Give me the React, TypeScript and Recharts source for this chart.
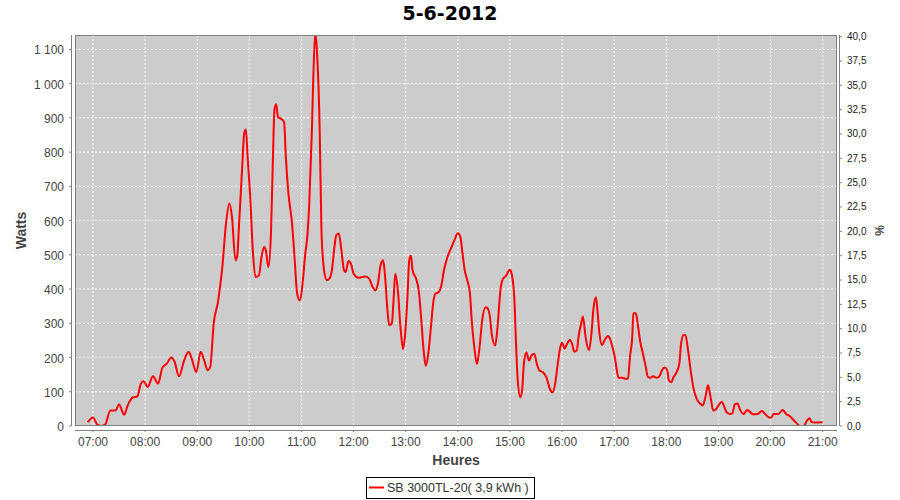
import { LineChart, Line, XAxis, YAxis, CartesianGrid } from 'recharts'

// readings of the inverter, time of day -> watts
const times = [
  '06:54', '07:00', '07:05', '07:10', '07:14', '07:20', '07:26', '07:30', '07:36', '07:40',
  '07:46', '07:51', '07:55', '07:58', '08:03', '08:09', '08:15', '08:20', '08:25', '08:30',
  '08:34', '08:39', '08:45', '08:50', '08:53', '08:59', '09:04', '09:08', '09:12', '09:15',
  '09:19', '09:24', '09:29', '09:33', '09:37', '09:40', '09:44', '09:46', '09:48', '09:52',
  '09:54', '09:56', '09:58', '10:01', '10:04', '10:07', '10:11', '10:14', '10:17', '10:19',
  '10:22', '10:25', '10:27', '10:29', '10:31', '10:33', '10:36', '10:40', '10:42', '10:45',
  '10:49', '10:52', '10:55', '10:58', '11:02', '11:04', '11:07', '11:09', '11:12', '11:14',
  '11:16', '11:18', '11:21', '11:23', '11:26', '11:29', '11:32', '11:35', '11:38', '11:40',
  '11:43', '11:46', '11:49', '11:51', '11:54', '11:57', '12:00', '12:06', '12:14', '12:18',
  '12:22', '12:25', '12:28', '12:31', '12:34', '12:36', '12:39', '12:41', '12:44', '12:46',
  '12:48', '12:51', '12:54', '12:57', '12:59', '13:02', '13:04', '13:06', '13:08', '13:12',
  '13:15', '13:18', '13:20', '13:23', '13:26', '13:29', '13:32', '13:34', '13:38', '13:41',
  '13:44', '13:48', '13:52', '13:56', '14:00', '14:03', '14:05', '14:08', '14:11', '14:14',
  '14:16', '14:19', '14:22', '14:25', '14:28', '14:32', '14:34', '14:37', '14:39', '14:43',
  '14:46', '14:49', '14:52', '14:55', '15:00', '15:02', '15:05', '15:07', '15:09', '15:12',
  '15:14', '15:16', '15:19', '15:22', '15:25', '15:28', '15:31', '15:34', '15:38', '15:42',
  '15:46', '15:49', '15:52', '15:55', '15:58', '16:00', '16:03', '16:05', '16:09', '16:12',
  '16:14', '16:17', '16:19', '16:22', '16:24', '16:27', '16:31', '16:34', '16:36', '16:39',
  '16:41', '16:43', '16:46', '16:49', '16:53', '16:55', '16:58', '17:01', '17:03', '17:05',
  '17:09', '17:13', '17:16', '17:18', '17:21', '17:22', '17:25', '17:27', '17:30', '17:33',
  '17:36', '17:39', '17:42', '17:45', '17:49', '17:52', '17:55', '17:58', '18:01', '18:03',
  '18:06', '18:08', '18:12', '18:15', '18:17', '18:20', '18:22', '18:25', '18:28', '18:31',
  '18:35', '18:39', '18:42', '18:45', '18:48', '18:51', '18:54', '18:58', '19:01', '19:04',
  '19:06', '19:09', '19:13', '19:16', '19:19', '19:22', '19:25', '19:29', '19:33', '19:36',
  '19:40', '19:45', '19:50', '19:53', '19:57', '20:00', '20:04', '20:09', '20:14', '20:18',
  '20:22', '20:26', '20:30', '20:34', '20:38', '20:42', '20:45', '20:47', '20:51', '21:00',
]

const watts = [
  11, 25, 4, 0, 4, 45, 45, 63, 33, 60,
  84, 86, 123, 131, 114, 145, 124, 171, 182, 200,
  187, 145, 192, 217, 202, 157, 217, 192, 163, 173,
  300, 364, 467, 588, 650, 611, 484, 494, 581, 767,
  854, 866, 786, 669, 513, 435, 440, 494, 523, 513,
  464, 572, 767, 927, 940, 901, 898, 888, 786, 679,
  596, 494, 387, 367, 435, 494, 562, 650, 864, 1049,
  1150, 1088, 864, 572, 455, 426, 430, 455, 523, 557,
  562, 513, 455, 450, 482, 474, 445, 433, 437, 430,
  406, 396, 416, 469, 484, 445, 338, 294, 299, 367,
  445, 396, 288, 225, 259, 376, 483, 498, 454, 430,
  396, 308, 240, 176, 211, 288, 366, 386, 391, 410,
  454, 493, 518, 542, 563, 552, 513, 454, 425, 386,
  308, 230, 181, 230, 308, 347, 345, 318, 269, 235,
  298, 396, 430, 437, 456, 444, 376, 240, 133, 84,
  103, 181, 215, 191, 206, 211, 181, 162, 157, 142,
  108, 98, 123, 181, 230, 243, 226, 236, 251, 236,
  217, 221, 261, 300, 320, 261, 221, 275, 339, 376,
  329, 271, 236, 251, 263, 256, 231, 197, 163, 141,
  141, 138, 138, 197, 271, 329, 329, 300, 246, 212,
  177, 143, 141, 145, 141, 145, 163, 171, 163, 133,
  128, 141, 158, 182, 241, 266, 266, 222, 163, 114,
  79, 65, 60, 84, 119, 84, 45, 51, 64, 71,
  61, 42, 35, 37, 64, 66, 47, 35, 47, 42,
  34, 35, 44, 37, 27, 24, 35, 35, 47, 35,
  29, 19, 8, 0, 0, 16, 23, 12, 10, 11,
]

const hourTicks = ['07:00', '08:00', '09:00', '10:00', '11:00', '12:00', '13:00', '14:00',
  '15:00', '16:00', '17:00', '18:00', '19:00', '20:00', '21:00']
const wattTicks = [0, 100, 200, 300, 400, 500, 600, 700, 800, 900, 1000, 1100]
const pctTicks = [0, 2.5, 5, 7.5, 10, 12.5, 15, 17.5, 20, 22.5, 25, 27.5, 30, 32.5, 35, 37.5, 40]

const toMin = (s: string) => {
  const [h, m] = s.split(':').map(Number)
  return h * 60 + m
}
const data = times.map((t, i) => ({ t: toMin(t), w: watts[i] }))

const fmtHour = (v: number) => `${String(Math.floor(v / 60)).padStart(2, '0')}:${String(v % 60).padStart(2, '0')}`
const fmtWatt = (v: number) => String(v).replace(/\B(?=(\d{3})+(?!\d))/g, ' ')
const fmtPct = (v: number) => v.toFixed(1).replace('.', ',')

const SANS = '"Liberation Sans", Arial, sans-serif'
const AXIS = '#808080'

const LeftTick = ({ x, y, payload }: any) => (
  <g>
    <line x1={x - 6} x2={x - 4} y1={y} y2={y} stroke={AXIS} />
    <text x={x - 11} y={y + 5} textAnchor="end" fontSize={12} fontFamily={SANS} fill="#444">
      {fmtWatt(payload.value)}
    </text>
  </g>
)

const RightTick = ({ x, y, payload }: any) => (
  <g>
    <line x1={x + 3} x2={x + 5} y1={y} y2={y} stroke={AXIS} />
    <text x={x + 10} y={y + 3.5} textAnchor="start" fontSize={10} fontFamily={SANS} fill="#222">
      {fmtPct(payload.value)}
    </text>
  </g>
)

const BottomTick = ({ x, y, payload }: any) => (
  <g>
    <line x1={x} x2={x} y1={y + 4} y2={y + 6} stroke={AXIS} />
    <text x={x} y={y + 20} textAnchor="middle" fontSize={12} fontFamily={SANS} fill="#444">
      {fmtHour(payload.value)}
    </text>
  </g>
)

const axisTitle = (text: string, dx: number, dy: number, angle: number, size: number) =>
  ({ viewBox }: any) => {
    const cx = viewBox.x + dx
    const cy = viewBox.y + (angle ? viewBox.height / 2 : 0) + dy
    return (
      <text
        x={cx}
        y={cy}
        transform={angle ? `rotate(${angle} ${cx} ${cy})` : undefined}
        textAnchor="middle"
        dominantBaseline="central"
        fontSize={size}
        fontWeight="bold"
        fontFamily={SANS}
        fill="#444"
      >
        {text}
      </text>
    )
  }

export default function App() {
  return (
    <div style={{ position: 'absolute', left: 0, top: 0, width: 900, height: 500, background: '#fff' }}>
      <LineChart width={900} height={500} data={data} margin={{ top: 35, right: 0, left: 0, bottom: 0 }}>
        <CartesianGrid fill="#cccccc" stroke="#ffffff" strokeDasharray="2 2" />
        <XAxis
          dataKey="t"
          type="number"
          domain={[399.3, 1276.5]}
          ticks={hourTicks.map(toMin)}
          allowDataOverflow
          height={74}
          axisLine={false}
          tickLine={false}
          tickSize={0}
          tickMargin={0}
          tick={<BottomTick />}
          label={axisTitle('Heures', 381, 34, 0, 14)}
        />
        <YAxis
          domain={[0, 1142]}
          ticks={wattTicks}
          allowDataOverflow
          width={75}
          axisLine={false}
          tickLine={false}
          tickSize={0}
          tickMargin={0}
          tick={<LeftTick />}
          label={axisTitle('Watts', 21, 0, -90, 14)}
        />
        <YAxis
          yAxisId="right"
          orientation="right"
          domain={[0, 40.17]}
          ticks={pctTicks}
          allowDataOverflow
          width={63}
          axisLine={false}
          tickLine={false}
          tickSize={0}
          tickMargin={0}
          tick={<RightTick />}
          label={axisTitle('%', 43, 0, -90, 12)}
        />
        <Line
          type="monotone"
          dataKey="w"
          stroke="#ff0000"
          strokeWidth={2}
          dot={false}
          isAnimationActive={false}
        />
      </LineChart>
      <svg width={900} height={500} style={{ position: 'absolute', left: 0, top: 0, pointerEvents: 'none' }}>
        <text x={450} y={20} textAnchor="middle" fontSize={19} fontWeight="bold" fontFamily='"DejaVu Sans", sans-serif' fill="#000">
          5-6-2012
        </text>
        <rect x={75.5} y={35.5} width={761} height={390} fill="none" stroke={AXIS} />
        <line x1={71.5} x2={71.5} y1={35} y2={426} stroke={AXIS} />
        <line x1={839.5} x2={839.5} y1={35} y2={426} stroke={AXIS} />
        <line x1={75} x2={837} y1={430.5} y2={430.5} stroke={AXIS} />
        <rect x={366.5} y={477.5} width={168} height={21} fill="#fff" stroke="#000" />
        <line x1={369} x2={384} y1={487.5} y2={487.5} stroke="#ff0000" strokeWidth={2} />
        <text x={387} y={492} fontSize={12.5} fontFamily={SANS} fill="#333">
          SB 3000TL-20( 3,9 kWh )
        </text>
      </svg>
    </div>
  )
}
